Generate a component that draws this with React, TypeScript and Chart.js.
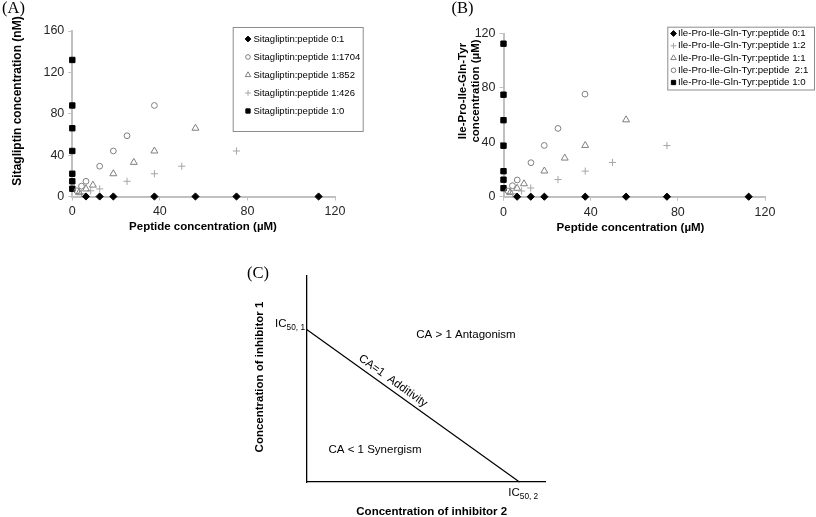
import React, { useEffect, useRef } from "react";
import { Chart, registerables } from "chart.js";
import { drawPoint } from "chart.js/helpers";
Chart.register(...registerables);

const FONT = 'Arial, "Liberation Sans", Helvetica, sans-serif';
const SERIF = '"Times New Roman", "Liberation Serif", serif';

// ---------- shared tick values ----------
const xTicksAB = [0, 40, 80, 120];
const yTicksA = [0, 40, 80, 120, 160];
const yTicksB = [0, 40, 80, 120];

// ---------- Panel A (Sitagliptin) ----------
const A_labels = [
  "Sitagliptin:peptide 0:1",
  "Sitagliptin:peptide 1:1704",
  "Sitagliptin:peptide 1:852",
  "Sitagliptin:peptide 1:426",
  "Sitagliptin:peptide 1:0",
];
const A_r01_x = [6.25, 12.5, 18.75, 37.5, 56.25, 75, 112.5];
const A_r01_y = [0, 0, 0, 0, 0, 0, 0];
const A_r1704_x = [2.1, 4.2, 6.25, 12.5, 18.75, 25, 37.5];
const A_r1704_y = [5.5, 10, 14.7, 29.3, 44, 58.7, 88];
const A_r852_x = [3.1, 6.25, 9.4, 18.75, 28.1, 37.5, 56.25];
const A_r852_y = [3.7, 7.3, 11, 22, 33, 44, 66];
const A_r426_x = [4.2, 8.4, 12.5, 25, 37.5, 50, 75];
const A_r426_y = [2.8, 5.5, 7.3, 14.7, 22, 29.3, 44];
const A_r10_x = [0, 0, 0, 0, 0, 0, 0];
const A_r10_y = [7.5, 14.7, 22, 44, 66, 88, 132];

// ---------- Panel B (Ile-Pro-Ile-Gln-Tyr) ----------
const B_labels = [
  "Ile-Pro-Ile-Gln-Tyr:peptide 0:1",
  "Ile-Pro-Ile-Gln-Tyr:peptide 1:2",
  "Ile-Pro-Ile-Gln-Tyr:peptide 1:1",
  "Ile-Pro-Ile-Gln-Tyr:peptide  2:1",
  "Ile-Pro-Ile-Gln-Tyr:peptide 1:0",
];
const B_r01_x = [6.25, 12.5, 18.75, 37.5, 56.25, 75, 112.5];
const B_r01_y = [0, 0, 0, 0, 0, 0, 0];
const B_r12_x = [4.2, 8.3, 12.5, 25, 37.5, 50, 75];
const B_r12_y = [2.3, 4.2, 6.4, 12.6, 18.8, 25.2, 37.6];
const B_r11_x = [3.1, 6.25, 9.4, 18.75, 28.1, 37.5, 56.25];
const B_r11_y = [3, 6.2, 9.5, 18.9, 28.4, 37.7, 56.5];
const B_r21_x = [2.1, 4.1, 6.3, 12.6, 18.7, 25, 37.4];
const B_r21_y = [4.2, 8.1, 12.3, 25, 37.7, 50.2, 75.4];
const B_r10_x = [0, 0, 0, 0, 0, 0, 0];
const B_r10_y = [6.25, 12.5, 18.75, 37.5, 56.25, 75, 112.5];

// ---------- Panel C (isobologram) ----------
const C_line_x = [0, 1];
const C_line_y = [1, 0];
const C_xMax = 1.12;
const C_yMax = 1.35;

const pts = (xs: number[], ys: number[]) => xs.map((x, i) => ({ x, y: ys[i] }));

const DARK = "#000000";
const MID = "#7f7f7f";
const LIGHT = "#a6a6a6";

function ds(label: string, data: any[], style: string, color: string, radius: number, fill: string) {
  return {
    label,
    data,
    pointStyle: style,
    pointRadius: radius,
    pointBorderColor: color,
    pointBackgroundColor: fill,
    borderColor: color,
    backgroundColor: fill,
    pointBorderWidth: 1,
    showLine: false,
    clip: false as any,
  };
}

function txt(
  ctx: CanvasRenderingContext2D,
  s: string,
  x: number,
  y: number,
  font: string,
  align: CanvasTextAlign = "center",
  rot = 0,
  color = "#000"
) {
  ctx.save();
  ctx.font = font;
  ctx.fillStyle = color;
  ctx.textAlign = align;
  ctx.textBaseline = "middle";
  ctx.translate(x, y);
  if (rot) ctx.rotate(rot);
  ctx.fillText(s, 0, 0);
  ctx.restore();
}

function drawSub(
  ctx: CanvasRenderingContext2D,
  x: number,
  y: number,
  main: string,
  sub: string,
  align: "left" | "right",
  size: number
) {
  ctx.save();
  ctx.fillStyle = "#000";
  ctx.textBaseline = "middle";
  ctx.textAlign = "left";
  ctx.font = `${size}px ${FONT}`;
  const w1 = ctx.measureText(main).width;
  ctx.font = `${size * 0.72}px ${FONT}`;
  const w2 = ctx.measureText(sub).width;
  const start = align === "right" ? x - w1 - w2 : x;
  ctx.font = `${size}px ${FONT}`;
  ctx.fillText(main, start, y);
  ctx.font = `${size * 0.72}px ${FONT}`;
  ctx.fillText(sub, start + w1, y + size * 0.3);
  ctx.restore();
}

function legendPlugin(box: number[], rows: number[], markerX: number, textX: number, fontSize: number) {
  return {
    id: "boxLegend",
    afterDraw(chart: any) {
      const ctx: CanvasRenderingContext2D = chart.ctx;
      ctx.save();
      ctx.fillStyle = "#fff";
      ctx.fillRect(box[0], box[1], box[2] - box[0], box[3] - box[1]);
      ctx.strokeStyle = "#8c8c8c";
      ctx.lineWidth = 1;
      ctx.strokeRect(box[0] + 0.5, box[1] + 0.5, box[2] - box[0], box[3] - box[1]);
      chart.data.datasets.forEach((d: any, i: number) => {
        ctx.save();
        ctx.fillStyle = d.pointBackgroundColor;
        ctx.strokeStyle = d.pointBorderColor;
        ctx.lineWidth = 1;
        drawPoint(ctx, { pointStyle: d.pointStyle, radius: d.pointRadius * 0.8, rotation: 0, borderWidth: 1 } as any, markerX, rows[i]);
        ctx.restore();
        txt(ctx, d.label, textX, rows[i], `${fontSize}px ${FONT}`, "left");
      });
      ctx.restore();
    },
  };
}

function axisCommon(ticks: number[], fit: (s: any) => void) {
  return {
    type: "linear" as const,
    min: ticks[0],
    max: ticks[ticks.length - 1],
    afterFit: fit,
    ticks: {
      stepSize: ticks[1] - ticks[0],
      font: { size: 12.5, family: FONT },
      color: "#262626",
      padding: 4,
      maxRotation: 0,
    },
    grid: { display: true, drawOnChartArea: false, drawTicks: true, tickLength: 4, color: "#c0c0c0", lineWidth: 1 },
    border: { display: true, color: "#c0c0c0", width: 2 },
  };
}

function configA(): any {
  return {
    type: "scatter",
    data: {
      datasets: [
        ds(A_labels[0], pts(A_r01_x, A_r01_y), "rectRot", DARK, 3.6, DARK),
        ds(A_labels[1], pts(A_r1704_x, A_r1704_y), "circle", MID, 2.9, "rgba(0,0,0,0)"),
        ds(A_labels[2], pts(A_r852_x, A_r852_y), "triangle", MID, 4, "rgba(0,0,0,0)"),
        ds(A_labels[3], pts(A_r426_x, A_r426_y), "cross", LIGHT, 3.6, LIGHT),
        ds(A_labels[4], pts(A_r10_x, A_r10_y), "rect", DARK, 3.8, DARK),
      ],
    },
    options: {
      responsive: false,
      animation: false,
      layout: { padding: { left: 0, top: 31, right: 65, bottom: 0 } },
      plugins: { legend: { display: false }, tooltip: { enabled: false } },
      scales: {
        x: axisCommon(xTicksAB, (s: any) => { s.height = 43.5; }),
        y: axisCommon(yTicksA, (s: any) => { s.width = 72.3; }),
      },
    },
    plugins: [
      {
        id: "textsA",
        afterDraw(chart: any) {
          const ctx = chart.ctx;
          txt(ctx, "(A)", 13.5, 9, `16.5px ${SERIF}`);
          txt(ctx, "Sitagliptin concentration (nM)", 18, 101, `bold 12px ${FONT}`, "center", -Math.PI / 2);
          txt(ctx, "Peptide concentration (\u00b5M)", 203, 227, `bold 11.5px ${FONT}`);
        },
      },
      legendPlugin([232.7, 27, 362.7, 131], [39, 57, 75, 93, 111], 248, 253.5, 9.5),
    ],
  };
}

function configB(): any {
  return {
    type: "scatter",
    data: {
      datasets: [
        ds(B_labels[0], pts(B_r01_x, B_r01_y), "rectRot", DARK, 3.6, DARK),
        ds(B_labels[1], pts(B_r12_x, B_r12_y), "cross", LIGHT, 3.6, LIGHT),
        ds(B_labels[2], pts(B_r11_x, B_r11_y), "triangle", MID, 4, "rgba(0,0,0,0)"),
        ds(B_labels[3], pts(B_r21_x, B_r21_y), "circle", MID, 2.9, "rgba(0,0,0,0)"),
        ds(B_labels[4], pts(B_r10_x, B_r10_y), "rect", DARK, 3.8, DARK),
      ],
    },
    options: {
      responsive: false,
      animation: false,
      layout: { padding: { left: 0, top: 33.5, right: 51, bottom: 0 } },
      plugins: { legend: { display: false }, tooltip: { enabled: false } },
      scales: {
        x: axisCommon(xTicksAB, (s: any) => { s.height = 43.3; }),
        y: axisCommon(yTicksB, (s: any) => { s.width = 103.5; }),
      },
    },
    plugins: [
      {
        id: "textsB",
        afterDraw(chart: any) {
          const ctx = chart.ctx;
          txt(ctx, "(B)", 62.5, 9, `16.5px ${SERIF}`);
          txt(ctx, "Ile-Pro-Ile-Gln-Tyr", 63.3, 91, `bold 11.5px ${FONT}`, "center", -Math.PI / 2);
          txt(ctx, "concentration (\u00b5M)", 75.5, 91, `bold 11.5px ${FONT}`, "center", -Math.PI / 2);
          txt(ctx, "Peptide concentration (\u00b5M)", 230.5, 228, `bold 11.5px ${FONT}`);
        },
      },
      legendPlugin([267.3, 26.7, 414, 89.5], [33.5, 45.8, 58, 70.3, 82.5], 273.5, 278, 9.7),
    ],
  };
}

function configC(): any {
  const axis = (max: number, fit: (s: any) => void) => ({
    type: "linear" as const,
    min: 0,
    max,
    afterFit: fit,
    ticks: { display: false },
    grid: { display: true, drawOnChartArea: false, drawTicks: false },
    border: { display: true, color: "#000", width: 1.3 },
  });
  return {
    type: "scatter",
    data: {
      datasets: [
        {
          label: "CA=1",
          data: pts(C_line_x, C_line_y),
          showLine: true,
          borderColor: "#000",
          borderWidth: 1.2,
          pointRadius: 0,
          clip: false,
        },
      ],
    },
    options: {
      responsive: false,
      animation: false,
      layout: { padding: { left: 0, top: 21, right: 15, bottom: 0 } },
      plugins: { legend: { display: false }, tooltip: { enabled: false } },
      scales: {
        x: axis(C_xMax, (s: any) => { s.height = 35; }),
        y: axis(C_yMax, (s: any) => { s.width = 76.7; }),
      },
    },
    plugins: [
      {
        id: "textsC",
        afterDraw(chart: any) {
          const ctx = chart.ctx;
          txt(ctx, "(C)", 28, 19, `16.5px ${SERIF}`);
          txt(ctx, "Concentration of inhibitor 1", 30, 122, `bold 11.5px ${FONT}`, "center", -Math.PI / 2);
          txt(ctx, "Concentration of inhibitor 2", 201.7, 256.5, `bold 11.5px ${FONT}`);
          drawSub(ctx, 75, 69.3, "IC", "50, 1", "right", 11.5);
          drawSub(ctx, 278.3, 238.3, "IC", "50, 2", "left", 11.5);
          txt(ctx, "CA > 1 Antagonism", 236, 80, `11.5px ${FONT}`);
          txt(ctx, "CA < 1 Synergism", 145, 195, `11.5px ${FONT}`);
          const ang = Math.atan2(152.7, 212.6);
          txt(ctx, "CA=1  Additivity", 163, 126, `11.5px ${FONT}`, "center", ang);
        },
      },
    ],
  };
}

export default function App() {
  const refA = useRef<HTMLCanvasElement>(null);
  const refB = useRef<HTMLCanvasElement>(null);
  const refC = useRef<HTMLCanvasElement>(null);
  useEffect(() => {
    const a = new Chart(refA.current as HTMLCanvasElement, configA());
    const b = new Chart(refB.current as HTMLCanvasElement, configB());
    const c = new Chart(refC.current as HTMLCanvasElement, configC());
    return () => {
      a.destroy();
      b.destroy();
      c.destroy();
    };
  }, []);
  return (
    <div style={{ position: "fixed", left: 0, top: 0, width: 816, height: 517, background: "#fff", overflow: "hidden" }}>
      <canvas ref={refA} width={400} height={240} style={{ position: "absolute", left: 0, top: 0, width: 400, height: 240 }} />
      <canvas ref={refB} width={416} height={240} style={{ position: "absolute", left: 400, top: 0, width: 416, height: 240 }} />
      <canvas ref={refC} width={330} height={262} style={{ position: "absolute", left: 230, top: 255, width: 330, height: 262 }} />
    </div>
  );
}
